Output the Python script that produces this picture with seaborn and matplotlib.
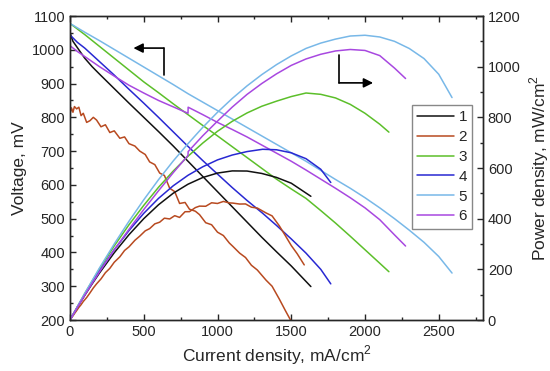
import numpy as np
import pandas as pd
import seaborn as sns
from matplotlib import pyplot as plt
from matplotlib.ticker import MultipleLocator

# curvas de polarizacion: densidad de corriente (mA/cm2) y voltaje (mV)
i1 = [0, 20, 60, 100, 150, 200, 300, 400, 500, 600, 700, 800, 900, 1000,
      1100, 1200, 1300, 1400, 1500, 1633]
v1 = [1050, 1025, 1000, 975, 950, 928, 885, 842, 800, 758, 715, 670, 625,
      580, 535, 490, 445, 402, 360, 299]

i2 = [0, 10, 20, 30, 45, 60, 75, 90, 113, 135, 158, 180, 210, 240, 270, 300,
      338, 370, 400, 440, 473, 510, 540, 575, 608, 640, 676, 710, 743, 780,
      810, 850, 878, 920, 960, 1000, 1040, 1080, 1104, 1150, 1190, 1230, 1270,
      1329, 1370, 1419, 1460, 1500, 1540, 1588]
v2 = [810, 828, 815, 832, 825, 830, 805, 812, 785, 790, 800, 792, 772, 778,
      755, 760, 738, 742, 722, 715, 700, 690, 668, 660, 635, 628, 590, 580,
      545, 548, 528, 522, 512, 488, 482, 460, 450, 428, 418, 398, 385, 362,
      348, 318, 300, 262, 228, 196, 170, 137]

i3 = [0, 100, 200, 300, 400, 500, 600, 700, 800, 900, 1000, 1100, 1200, 1300,
      1400, 1500, 1600, 1700, 1800, 1900, 2000, 2100, 2162]
v3 = [1078, 1045, 1010, 975, 940, 905, 873, 840, 808, 776, 745, 713, 681,
      649, 617, 588, 560, 524, 487, 448, 408, 368, 343]

i4 = [0, 50, 100, 200, 300, 400, 500, 600, 700, 800, 900, 1000, 1100, 1200,
      1306, 1400, 1500, 1600, 1700, 1768]
v4 = [1044, 1022, 1005, 965, 925, 883, 842, 800, 757, 714, 672, 632, 592,
      554, 516, 480, 440, 398, 350, 307]

i5 = [0, 100, 200, 300, 400, 500, 600, 700, 800, 900, 1000, 1100, 1200, 1300,
      1400, 1500, 1600, 1700, 1800, 1900, 2000, 2100, 2200, 2300, 2400, 2500,
      2590]
v5 = [1078, 1052, 1027, 1001, 975, 949, 923, 897, 870, 845, 820, 795, 770,
      745, 720, 695, 670, 643, 616, 590, 562, 532, 500, 466, 430, 388, 339]

i6 = [0, 50, 100, 150, 200, 300, 400, 500, 600, 700, 800, 801, 900, 1000,
      1100, 1200, 1300, 1400, 1500, 1600, 1700, 1800, 1900, 2000, 2100, 2200,
      2275]
v6 = [1012, 995, 980, 965, 950, 922, 895, 872, 850, 831, 812, 830, 808, 785,
      764, 742, 718, 694, 670, 644, 617, 590, 562, 532, 497, 452, 419]

etiquetas = ['1', '2', '3', '4', '5', '6']
colores = ['#111111', '#b84a20', '#5cbf2a', '#2828d2', '#78b8e8', '#a848e0']

sns.set_style('ticks')
plt.rcParams['font.family'] = ['Liberation Sans', 'DejaVu Sans']
plt.rcParams['mathtext.fontset'] = 'custom'
plt.rcParams['mathtext.rm'] = 'Liberation Sans'
plt.rcParams['axes.linewidth'] = 1.0

fig = plt.figure(figsize=(5.5, 3.71), dpi=100)
ax = fig.add_axes([70 / 550, 1 - 320 / 371, 413 / 550, 304 / 371])
ax2 = ax.twinx()

series = [(i1, v1), (i2, v2), (i3, v3), (i4, v4), (i5, v5), (i6, v6)]
for (i, v), lab, col in zip(series, etiquetas, colores):
    df = pd.DataFrame({'I': i, 'V': v})
    df['P'] = df['I'] * df['V'] / 1000  # potencia mW/cm2
    sns.lineplot(data=df, x='I', y='V', ax=ax, color=col, lw=1.1,
                 estimator=None, sort=False, label=lab)
    sns.lineplot(data=df, x='I', y='P', ax=ax2, color=col, lw=1.1,
                 estimator=None, sort=False, legend=False)

ax.set_xlim(0, 2800)
ax.set_ylim(200, 1100)
ax2.set_ylim(0, 1200)
ax.xaxis.set_major_locator(MultipleLocator(500))
ax.xaxis.set_minor_locator(MultipleLocator(250))
ax.yaxis.set_major_locator(MultipleLocator(100))
ax.yaxis.set_minor_locator(MultipleLocator(50))
ax2.yaxis.set_major_locator(MultipleLocator(200))
ax2.yaxis.set_minor_locator(MultipleLocator(100))

ax.tick_params(which='both', direction='in', top=True, right=False,
               labelsize=10.5, width=1.0)
ax.tick_params(which='major', length=4)
ax.tick_params(which='minor', length=2.5)
ax2.tick_params(which='both', direction='in', labelsize=10.5, width=1.0)
ax2.tick_params(which='major', length=4)
ax2.tick_params(which='minor', length=2.5)
ax.set_xticks([0, 500, 1000, 1500, 2000, 2500])

ax.set_xlabel('Current density, mA/cm$^2$', fontsize=12.5, labelpad=3)
ax.set_ylabel('Voltage, mV', fontsize=12.5, labelpad=4)
ax2.set_ylabel('Power density, mW/cm$^2$', fontsize=12.5, labelpad=5)
for s in ax2.spines.values():
    s.set_linewidth(1.0)

# flechas indicando el eje de cada familia de curvas
ax.plot([635, 635], [925, 1005], color='k', lw=1.2)
ax.annotate('', xy=(430, 1005), xytext=(635, 1005),
            arrowprops=dict(arrowstyle='-|>', color='k', lw=1.2,
                            mutation_scale=14, shrinkA=0, shrinkB=0))
ax.plot([1824, 1824], [902, 985], color='k', lw=1.2)
ax.annotate('', xy=(2055, 902), xytext=(1824, 902),
            arrowprops=dict(arrowstyle='-|>', color='k', lw=1.2,
                            mutation_scale=14, shrinkA=0, shrinkB=0))

h, l = ax.get_legend_handles_labels()
ax.get_legend().remove()
leg = ax2.legend(h, l, loc='upper left', bbox_to_anchor=(0.828, 0.707),
                 borderaxespad=0, fontsize=11, handlelength=2.4,
                 handletextpad=0.3, labelspacing=0.38, fancybox=False,
                 edgecolor='#888888', framealpha=1, borderpad=0.35)
leg.get_frame().set_linewidth(1.0)

plt.savefig('out.png', dpi=100)
